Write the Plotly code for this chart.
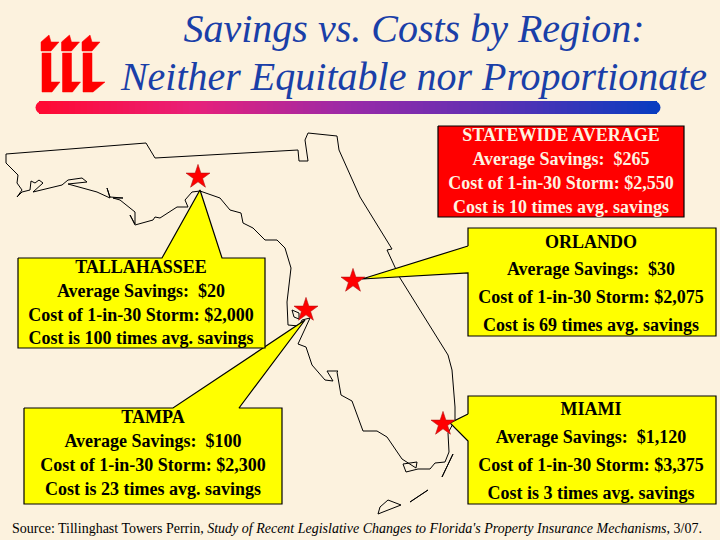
import plotly.graph_objects as go

SERIF = "Liberation Serif"
PAPER = "#fcf2de"

# state outline
coast_x = [6, 146, 155, 298, 299, 308, 305, 308, 337, 339, 360, 380, 392, 387, 395, 400, 443, 448, 452, 455, 455, 448, 449, 445, 435, 430, 418, 406, 403, 417, 416, 402, 387, 377, 363, 352, 341, 337, 338, 327, 333, 325, 312, 306, 298, 310, 302, 299, 288, 287, 291, 285, 277, 265, 253, 243, 241, 230, 220, 207, 200, 192, 185, 188, 177, 160, 155, 153, 135, 130, 135, 135, 120, 113, 123, 110, 107, 110, 97, 68, 87, 82, 68, 62, 33, 43, 39, 35, 31, 30, 22, 17, 22, 17, 18, 6, 6]
coast_y = [154, 143, 158, 150, 161, 161, 140, 133, 136, 150, 197, 230, 249, 250, 267, 278, 347, 355, 370, 407, 420, 433, 452, 462, 463, 469, 469, 472, 464, 462, 468, 459, 437, 431, 431, 401, 395, 372, 371, 371, 381, 380, 365, 347, 344, 318, 320, 326, 325, 302, 268, 248, 240, 240, 228, 223, 213, 210, 198, 193, 191, 192, 200, 207, 207, 218, 217, 220, 225, 215, 224, 212, 200, 198, 198, 197, 188, 198, 192, 184, 182, 178, 180, 185, 192, 183, 180, 183, 181, 190, 192, 197, 190, 183, 175, 163, 154]
bay_x = [292, 299, 299, 294, 292]
bay_y = [310, 313, 319, 317, 310]
key1_x = [442, 453, 446, 442]
key1_y = [477, 454, 470, 477]
key2_x = [410, 428, 415, 410]
key2_y = [502, 490, 499, 502]
island_x = [378, 380, 388, 401, 383, 378]
island_y = [514, 507, 500, 505, 512, 514]

# callouts: box outline with its pointer
talla_x = [18, 162, 200, 222, 265, 265, 18, 18]
talla_y = [258, 258, 190, 258, 258, 348, 348, 258]
tampa_x = [24, 173, 305, 239, 282, 282, 24, 24]
tampa_y = [408, 408, 320, 408, 408, 504, 504, 408]
orlando_x = [468, 468, 716, 716, 468, 468, 362, 468]
orlando_y = [246, 228, 228, 336, 336, 273, 279, 246]
miami_x = [468, 468, 716, 716, 468, 468, 450, 468]
miami_y = [414, 396, 396, 504, 504, 441, 423, 414]
state_x = [438, 684, 684, 438, 438]
state_y = [126, 126, 217, 217, 126]

star_x = [198, 353, 306, 443]
star_y = [177, 281, 310, 424]

# logo
flag_x = [41, 49, 51, 59, 51, 41, 41]
flag_y = [42, 35, 42, 42, 51, 51, 42]
stem_x = [42, 51, 51, 60, 52, 42, 42]
stem_y = [53, 53, 82, 82, 92, 92, 53]
last_x = [83, 92, 92, 105, 93, 83, 83]
last_y = [53, 53, 82, 82, 92, 92, 53]
logo_step = [0, 20.5, 41]

talla_lines = ["TALLAHASSEE", "Average Savings:  $20", "Cost of 1-in-30 Storm: $2,000", "Cost is 100 times avg. savings"]
talla_line_y = [268, 292, 316, 339]
tampa_lines = ["TAMPA", "Average Savings:  $100", "Cost of 1-in-30 Storm: $2,300", "Cost is 23 times avg. savings"]
tampa_line_y = [418, 442, 466, 490]
orlando_lines = ["ORLANDO", "Average Savings:  $30", "Cost of 1-in-30 Storm: $2,075", "Cost is 69 times avg. savings"]
orlando_line_y = [243, 270, 298, 326]
miami_lines = ["MIAMI", "Average Savings:  $1,120", "Cost of 1-in-30 Storm: $3,375", "Cost is 3 times avg. savings"]
miami_line_y = [410, 438, 466, 494]
state_lines = ["STATEWIDE AVERAGE", "Average Savings:  $265", "Cost of 1-in-30 Storm: $2,550", "Cost is 10 times avg. savings"]
state_line_y = [136, 160, 184, 208]

source = "Source: Tillinghast Towers Perrin, <i>Study of Recent Legislative Changes to Florida's Property Insurance Mechanisms</i>, 3/07."

fig = go.Figure()


def poly(x, y, fill=None, line="black", width=1.2):
    fig.add_trace(go.Scatter(
        x=x, y=y, mode="lines",
        fill="toself" if fill else None,
        fillcolor=fill,
        line=dict(color=line, width=width),
    ))


def lines_of_text(xc, ys, lines, color="black"):
    fig.add_trace(go.Scatter(
        x=[xc] * len(lines), y=ys, text=lines, mode="text",
        textposition="middle center",
        textfont=dict(family=SERIF, size=18, color=color, weight="bold"),
    ))


# gradient bar
bar_x = list(range(42, 655, 6))
bar_z = [bar_x]
fig.add_trace(go.Heatmap(
    x=bar_x, y=[101, 114], z=bar_z, showscale=False, hoverinfo="skip",
    colorscale=[[0, "#ff0a33"], [0.25, "#e8207a"], [0.5, "#9a2aa8"], [0.75, "#5a30b4"], [1, "#0a3cc0"]],
))
fig.add_trace(go.Scatter(
    x=[42, 654], y=[107.5, 107.5], mode="markers",
    marker=dict(size=13, color=["#ff0a33", "#0a3cc0"]),
))

poly(coast_x, coast_y, width=1)
poly(bay_x, bay_y, width=1)
poly(key1_x, key1_y, width=1)
poly(key2_x, key2_y, width=1)
poly(island_x, island_y, width=1)

poly(tampa_x, tampa_y, "#ffff00")
poly(talla_x, talla_y, "#ffff00")
poly(orlando_x, orlando_y, "#ffff00")
poly(miami_x, miami_y, "#ffff00")
poly(state_x, state_y, "#ff0000")

for i, dx in enumerate(logo_step):
    poly([v + dx for v in flag_x], flag_y, "#ff0000", "#ff0000", 0.5)
    if i < 2:
        poly([v + dx for v in stem_x], stem_y, "#ff0000", "#ff0000", 0.5)
poly(last_x, last_y, "#ff0000", "#ff0000", 0.5)

fig.add_trace(go.Scatter(
    x=star_x, y=star_y, mode="markers",
    marker=dict(symbol="star", size=18, color="#ff0000", line=dict(color="#b01010", width=0.6)),
))

lines_of_text(141, talla_line_y, talla_lines)
lines_of_text(153, tampa_line_y, tampa_lines)
lines_of_text(591, orlando_line_y, orlando_lines)
lines_of_text(591, miami_line_y, miami_lines)
lines_of_text(561, state_line_y, state_lines, "#fdf3e0")

# title
fig.add_trace(go.Scatter(
    x=[414, 414], y=[32, 80],
    text=["Savings vs. Costs by Region:", "Neither Equitable nor Proportionate"],
    mode="text", textposition="middle center",
    textfont=dict(family=SERIF, size=40, color="#1a3fa8", style="italic"),
))
fig.add_trace(go.Scatter(
    x=[12], y=[529], text=[source], mode="text", textposition="middle right",
    textfont=dict(family=SERIF, size=14, color="black"),
))

fig.update_layout(
    width=720, height=540,
    margin=dict(l=0, r=0, t=0, b=0),
    paper_bgcolor=PAPER, plot_bgcolor=PAPER,
    showlegend=False,
    xaxis=dict(range=[0, 720], visible=False, fixedrange=True),
    yaxis=dict(range=[540, 0], visible=False, fixedrange=True),
)

# page margin would shift the whole slide by 8px
fig.write_html("out.html", config=dict(displayModeBar=False),
               post_script="document.body.style.margin='0';document.body.style.overflow='hidden';")
